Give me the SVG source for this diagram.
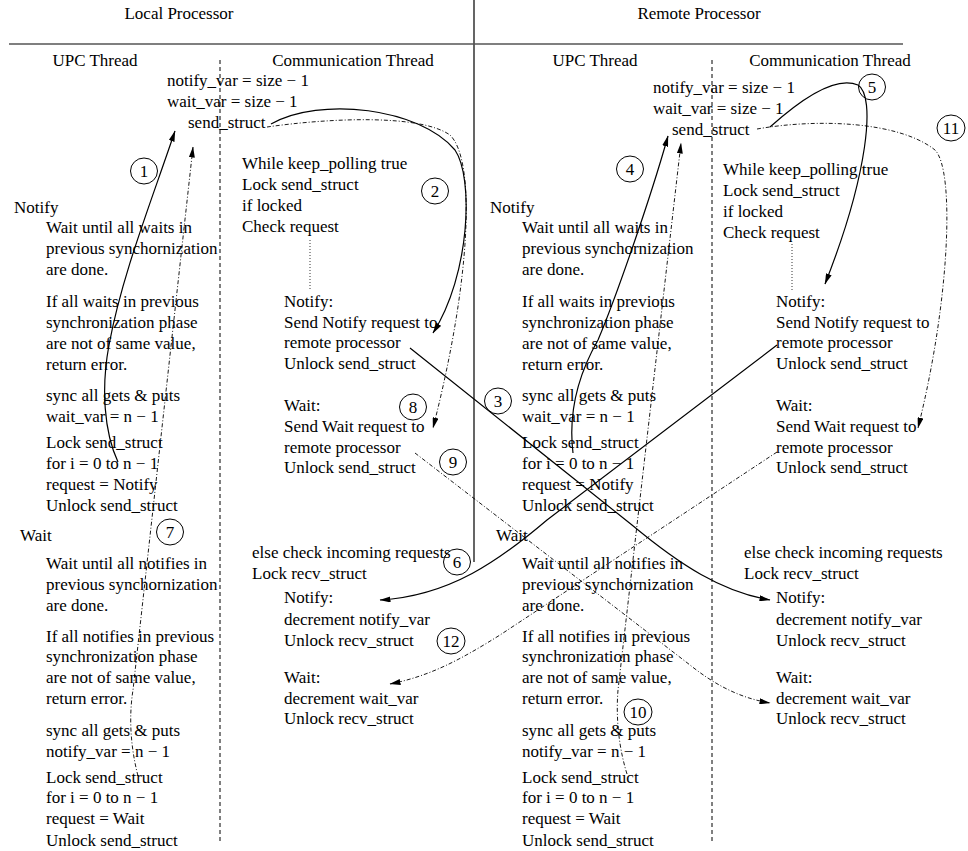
<svg xmlns="http://www.w3.org/2000/svg" width="968" height="851" viewBox="0 0 968 851">
  <style>
    text { font-family: "Liberation Serif", "Times New Roman", serif; font-size: 17px; fill: #000; }
    .mid { text-anchor: middle; }
    .frame { stroke: #000; stroke-width: 1.2; fill: none; }
    .divider { stroke: #555; stroke-width: 1.8; fill: none; }
    .lane { stroke: #000; stroke-width: 1; stroke-dasharray: 4 3; fill: none; }
    .dots { stroke: #000; stroke-width: 0.8; stroke-dasharray: 1 2; fill: none; }
    .solid { stroke: #000; stroke-width: 1.2; fill: none; marker-end: url(#head); }
    .dashdot { stroke: #000; stroke-width: 0.9; stroke-dasharray: 4 2 1 2; fill: none; marker-end: url(#head); }
    .tag ellipse { stroke: #000; stroke-width: 1; fill: none; }
  </style>
  <defs>
    <marker id="head" viewBox="0 0 11 6" refX="10.5" refY="3" markerWidth="11" markerHeight="6" markerUnits="userSpaceOnUse" orient="auto">
      <path d="M0,0 L11,3 L0,6 z" fill="#000"/>
    </marker>
  </defs>

  <rect width="968" height="851" fill="#fff"/>

  <!-- processor headers and frame -->
  <g id="frame">
    <text x="179" y="19" class="mid">Local Processor</text>
    <text x="699" y="19" class="mid">Remote Processor</text>
    <line x1="9" y1="44" x2="903" y2="44" class="frame"/>
    <line x1="474" y1="0" x2="474" y2="562" class="divider"/>
    <text x="95" y="66" class="mid">UPC Thread</text>
    <text x="353" y="66" class="mid">Communication Thread</text>
    <text x="595" y="66" class="mid">UPC Thread</text>
    <text x="830" y="66" class="mid">Communication Thread</text>
    <line x1="220" y1="60" x2="220" y2="843" class="lane"/>
    <line x1="712" y1="60" x2="712" y2="843" class="lane"/>
  </g>

  <!-- shared variables, local side -->
  <g id="local-shared">
    <text x="167" y="86">notify_var = size − 1</text>
    <text x="167" y="107">wait_var = size − 1</text>
    <text x="188" y="128">send_struct</text>
  </g>

  <!-- shared variables, remote side -->
  <g id="remote-shared">
    <text x="653" y="93">notify_var = size − 1</text>
    <text x="653" y="114">wait_var = size − 1</text>
    <text x="672" y="135">send_struct</text>
  </g>

  <!-- local UPC thread -->
  <g id="local-upc">
    <text x="14" y="213">Notify</text>
    <text x="46" y="233">Wait until all waits in</text>
    <text x="46" y="254">previous synchornization</text>
    <text x="46" y="275">are done.</text>
    <text x="46" y="307">If all waits in previous</text>
    <text x="46" y="328">synchronization phase</text>
    <text x="46" y="349">are not of same value,</text>
    <text x="46" y="370">return error.</text>
    <text x="46" y="401">sync all gets &amp; puts</text>
    <text x="46" y="422">wait_var = n − 1</text>
    <text x="46" y="448">Lock send_struct</text>
    <text x="46" y="469">for i = 0 to n − 1</text>
    <text x="46" y="490">request = Notify</text>
    <text x="46" y="511">Unlock send_struct</text>
    <text x="20" y="541">Wait</text>
    <text x="46" y="569">Wait until all notifies in</text>
    <text x="46" y="590">previous synchornization</text>
    <text x="46" y="611">are done.</text>
    <text x="46" y="642">If all notifies in previous</text>
    <text x="46" y="662">synchronization phase</text>
    <text x="46" y="683">are not of same value,</text>
    <text x="46" y="704">return error.</text>
    <text x="46" y="736">sync all gets &amp; puts</text>
    <text x="46" y="757">notify_var = n − 1</text>
    <text x="46" y="783">Lock send_struct</text>
    <text x="46" y="803">for i = 0 to n − 1</text>
    <text x="46" y="824">request = Wait</text>
    <text x="46" y="846">Unlock send_struct</text>
  </g>

  <!-- remote UPC thread -->
  <g id="remote-upc">
    <text x="490" y="213">Notify</text>
    <text x="522" y="233">Wait until all waits in</text>
    <text x="522" y="254">previous synchornization</text>
    <text x="522" y="275">are done.</text>
    <text x="522" y="307">If all waits in previous</text>
    <text x="522" y="328">synchronization phase</text>
    <text x="522" y="349">are not of same value,</text>
    <text x="522" y="370">return error.</text>
    <text x="522" y="401">sync all gets &amp; puts</text>
    <text x="522" y="422">wait_var = n − 1</text>
    <text x="522" y="448">Lock send_struct</text>
    <text x="522" y="469">for i = 0 to n − 1</text>
    <text x="522" y="490">request = Notify</text>
    <text x="522" y="511">Unlock send_struct</text>
    <text x="496" y="541">Wait</text>
    <text x="522" y="569">Wait until all notifies in</text>
    <text x="522" y="590">previous synchornization</text>
    <text x="522" y="611">are done.</text>
    <text x="522" y="642">If all notifies in previous</text>
    <text x="522" y="662">synchronization phase</text>
    <text x="522" y="683">are not of same value,</text>
    <text x="522" y="704">return error.</text>
    <text x="522" y="736">sync all gets &amp; puts</text>
    <text x="522" y="757">notify_var = n − 1</text>
    <text x="522" y="783">Lock send_struct</text>
    <text x="522" y="803">for i = 0 to n − 1</text>
    <text x="522" y="824">request = Wait</text>
    <text x="522" y="846">Unlock send_struct</text>
  </g>

  <!-- local communication thread -->
  <g id="local-comm">
    <text x="242" y="169">While keep_polling true</text>
    <text x="242" y="190">Lock send_struct</text>
    <text x="242" y="211">if locked</text>
    <text x="242" y="232">Check request</text>
    <line x1="310" y1="240" x2="310" y2="291" class="dots"/>
    <text x="284" y="307">Notify:</text>
    <text x="284" y="328">Send Notify request to</text>
    <text x="284" y="348">remote processor</text>
    <text x="284" y="369">Unlock send_struct</text>
    <text x="284" y="411">Wait:</text>
    <text x="284" y="432">Send Wait request to</text>
    <text x="284" y="453">remote processor</text>
    <text x="284" y="473">Unlock send_struct</text>
    <text x="252" y="558">else check incoming requests</text>
    <text x="252" y="579">Lock recv_struct</text>
    <text x="284" y="603">Notify:</text>
    <text x="284" y="625">decrement notify_var</text>
    <text x="284" y="646">Unlock recv_struct</text>
    <text x="284" y="683">Wait:</text>
    <text x="284" y="704">decrement wait_var</text>
    <text x="284" y="724">Unlock recv_struct</text>
  </g>

  <!-- remote communication thread -->
  <g id="remote-comm">
    <text x="723" y="175">While keep_polling true</text>
    <text x="723" y="196">Lock send_struct</text>
    <text x="723" y="217">if locked</text>
    <text x="723" y="238">Check request</text>
    <line x1="792" y1="244" x2="792" y2="292" class="dots"/>
    <text x="776" y="307">Notify:</text>
    <text x="776" y="328">Send Notify request to</text>
    <text x="776" y="348">remote processor</text>
    <text x="776" y="369">Unlock send_struct</text>
    <text x="776" y="411">Wait:</text>
    <text x="776" y="432">Send Wait request to</text>
    <text x="776" y="453">remote processor</text>
    <text x="776" y="473">Unlock send_struct</text>
    <text x="744" y="558">else check incoming requests</text>
    <text x="744" y="579">Lock recv_struct</text>
    <text x="776" y="603">Notify:</text>
    <text x="776" y="625">decrement notify_var</text>
    <text x="776" y="646">Unlock recv_struct</text>
    <text x="776" y="683">Wait:</text>
    <text x="776" y="704">decrement wait_var</text>
    <text x="776" y="724">Unlock recv_struct</text>
  </g>

  <!-- message flow -->
  <g id="connectors">
    <!-- 1: local notify writes send_struct -->
    <path class="solid" d="M118,462 C104,432 101,388 109,345 C122,275 150,205 175,131"/>
    <!-- 2: comm thread picks up notify -->
    <path class="solid" d="M271,124 C320,96 420,108 455,150 C474,178 470,275 433,333"/>
    <!-- 3: notify sent to remote -->
    <path class="solid" d="M410,348 L632,525 C680,565 722,592 770,600"/>
    <!-- 4: remote notify writes send_struct -->
    <path class="solid" d="M573,453 C569,420 574,382 598,340 C615,300 650,200 668,136"/>
    <!-- 5: remote comm thread picks up notify -->
    <path class="solid" d="M770,127 C800,100 835,75 858,85 C876,96 868,175 825,284"/>
    <!-- 6: notify sent to local -->
    <path class="solid" d="M777,345 L547,520 C500,560 450,596 380,600"/>
    <!-- 7: local wait writes send_struct -->
    <path class="dashdot" d="M138,776 C130,745 129,715 133,690 L193,147"/>
    <!-- 8: comm thread picks up wait -->
    <path class="dashdot" d="M267,127 C330,118 420,114 450,135 C476,160 471,280 433,428"/>
    <!-- 9: wait sent to remote -->
    <path class="dashdot" d="M415,453 L690,665 C715,685 740,698 770,703"/>
    <!-- 10: remote wait writes send_struct -->
    <path class="dashdot" d="M627,774 C618,745 616,715 618,690 L681,143"/>
    <!-- 11: remote comm thread picks up wait -->
    <path class="dashdot" d="M757,129 C820,118 900,122 935,150 C955,170 950,300 918,428"/>
    <!-- 12: wait sent to local -->
    <path class="dashdot" d="M777,452 L500,635 C460,660 430,676 390,684"/>
  </g>

  <!-- step numbers -->
  <g id="step-1" class="tag"><ellipse cx="144" cy="171" rx="13.5" ry="13"/><text x="144" y="177" class="mid">1</text></g>
  <g id="step-2" class="tag"><ellipse cx="435" cy="191" rx="13.5" ry="13"/><text x="435" y="197" class="mid">2</text></g>
  <g id="step-3" class="tag"><ellipse cx="498" cy="401" rx="13.5" ry="13"/><text x="498" y="407" class="mid">3</text></g>
  <g id="step-4" class="tag"><ellipse cx="630" cy="169" rx="13.5" ry="13"/><text x="630" y="175" class="mid">4</text></g>
  <g id="step-5" class="tag"><ellipse cx="872" cy="87" rx="13.5" ry="13"/><text x="872" y="93" class="mid">5</text></g>
  <g id="step-6" class="tag"><ellipse cx="457" cy="562" rx="13.5" ry="13"/><text x="457" y="568" class="mid">6</text></g>
  <g id="step-7" class="tag"><ellipse cx="170" cy="532" rx="13.5" ry="13"/><text x="170" y="538" class="mid">7</text></g>
  <g id="step-8" class="tag"><ellipse cx="413" cy="407" rx="13.5" ry="13"/><text x="413" y="413" class="mid">8</text></g>
  <g id="step-9" class="tag"><ellipse cx="453" cy="462" rx="13.5" ry="13"/><text x="453" y="468" class="mid">9</text></g>
  <g id="step-10" class="tag"><ellipse cx="638" cy="712" rx="14" ry="13"/><text x="638" y="718" class="mid">10</text></g>
  <g id="step-11" class="tag"><ellipse cx="951" cy="128" rx="14" ry="13"/><text x="951" y="134" class="mid">11</text></g>
  <g id="step-12" class="tag"><ellipse cx="451" cy="641" rx="14" ry="13"/><text x="451" y="647" class="mid">12</text></g>
</svg>
